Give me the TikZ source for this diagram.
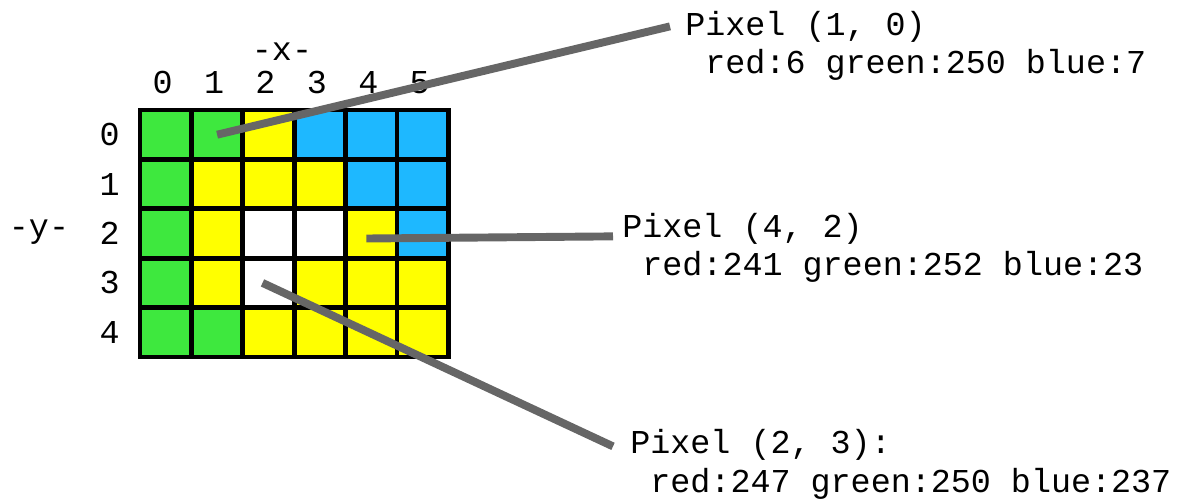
\documentclass[tikz,border=0pt]{standalone}
\usepackage{fontspec}
\setmonofont{Liberation Mono}
\usepackage{tikz}
\usetikzlibrary{positioning}
\definecolor{pixg}{RGB}{62,232,62}
\definecolor{pixy}{RGB}{255,255,0}
\definecolor{pixb}{RGB}{30,184,255}
\definecolor{pixw}{RGB}{255,255,255}
\definecolor{linkgray}{RGB}{102,102,102}

\begin{document}
\begin{tikzpicture}[
    txt/.style={font=\ttfamily\fontsize{19}{23}\selectfont, inner sep=0pt},
    cell/.style={draw=black, line width=2.8pt, minimum width=1.028cm, minimum height=0.988cm, inner sep=0pt, outer sep=0pt},
    link/.style={draw=linkgray, line width=4.5pt}]
    \useasboundingbox (0,0) rectangle (23.78,-9.98);
    \foreach \row [count=\j from 0] in {{g,g,y,b,b,b},{g,y,y,y,b,b},{g,y,w,w,y,b},{g,y,w,y,y,y},{g,g,y,y,y,y}} {
        \foreach \c [count=\i from 0] in \row {
            \node[cell, fill=pix\c] (c-\i-\j) at ({2.8+(\i+0.5)*1.028}, {-2.2-(\j+0.5)*0.988}) {};
        }
    }
    \foreach \i in {0,...,5}
        \node[txt] (xl\i) at ([xshift=-0.06cm, yshift=1.05cm]c-\i-0.center) {\i};
    \foreach \j in {0,...,4}
        \node[txt] (yl\j) at ([xshift=-1.12cm]c-0-\j.center) {\j};
    \node[txt] (xaxis) at (5.64,-1.04) {-x-};
    \node[txt] (yaxis) at (0.78,-4.64) {-y-};

    \node[txt, anchor=base west] (t1) at (13.70,-0.70) {Pixel (1, 0)};
    \node[txt, anchor=base west] (v1) at ([yshift=-0.76cm]t1.base west) {\phantom{r}red:6 green:250 blue:7};
    \node[txt, anchor=base west] (t2) at (12.44,-4.74) {Pixel (4, 2)};
    \node[txt, anchor=base west] (v2) at ([yshift=-0.76cm]t2.base west) {\phantom{r}red:241 green:252 blue:23};
    \node[txt, anchor=base west] (t3) at (12.60,-9.06) {Pixel (2, 3):};
    \node[txt, anchor=base west] (v3) at ([yshift=-0.78cm]t3.base west) {\phantom{r}red:247 green:250 blue:237};

    \draw[link] (c-1-0.center) -- ([xshift=-0.3cm]t1.west);
    \draw[link] ([xshift=-0.1cm, yshift=-0.1cm]c-4-2.center) -- ([xshift=-0.18cm, yshift=-0.16cm]t2.west);
    \draw[link] ([xshift=-0.12cm]c-2-3.center) -- ([xshift=-0.34cm, yshift=-0.04cm]t3.west);
\end{tikzpicture}
\end{document}
